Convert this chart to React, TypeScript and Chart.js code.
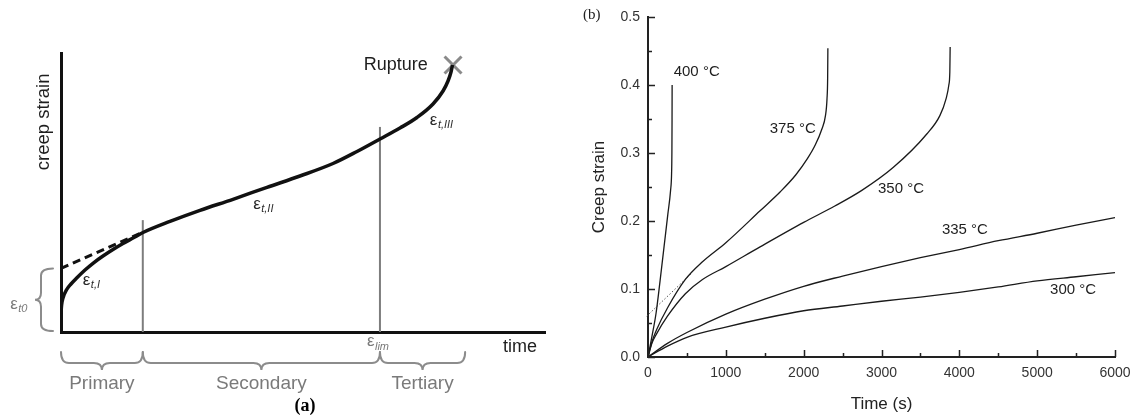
import { useEffect, useRef } from 'react';
import { Chart, registerables } from 'chart.js';

Chart.register(...registerables);

const SANS = '"Liberation Sans", Arial, Helvetica, sans-serif';
const SERIF = '"Liberation Serif", "Times New Roman", serif';

// ---------- Panel (a): idealised creep curve, arbitrary units ----------
const curveTime = [0, 0.124, 0.413, 1.178, 2.066, 3.244, 4.959, 6.674, 8.678, 10.744, 12.81, 14.876, 16.94, 22.52, 28.72, 35.54, 42.56, 49.38, 56.2, 61.16, 65.91, 70.04, 73.55, 76.86, 78.93, 79.96, 80.58, 80.89];
const curveStrain = [6.81, 9.68, 12.19, 15.23, 17.2, 19.35, 22.22, 24.73, 27.24, 29.57, 31.72, 33.69, 35.66, 39.64, 43.62, 47.56, 51.86, 55.91, 60.39, 64.7, 69.18, 73.12, 76.88, 81.72, 86.38, 89.96, 93.19, 95.7];
const tangentTime = [0, 16.9];
const tangentStrain = [22.8, 35.8];
const stageBounds = [0, 16.9, 65.9, 83.5];
const stageNames = ['Primary', 'Secondary', 'Tertiary'];
const boundaryTime = [16.9, 65.9];
const boundaryTop = [40.1, 73.5];
const ruptureTime = 81.0;
const ruptureStrain = 95.7;
const initialStrain = 22.8;

// ---------- Panel (b): measured creep strain vs time ----------
const t400 = [0, 50, 103, 155, 206, 255, 290, 303, 307, 309, 310];
const e400 = [0, 0.03, 0.064, 0.112, 0.162, 0.21, 0.245, 0.27, 0.3, 0.35, 0.4];
const t375 = [0, 50, 110, 250, 480, 700, 1000, 1440, 1700, 1900, 2050, 2150, 2233, 2280, 2300, 2308, 2311];
const e375 = [0, 0.022, 0.04, 0.072, 0.114, 0.14, 0.168, 0.215, 0.243, 0.268, 0.292, 0.312, 0.335, 0.355, 0.38, 0.41, 0.454];
const t350 = [0, 50, 110, 250, 480, 700, 1000, 1440, 2000, 2400, 2747, 3153, 3582, 3750, 3830, 3865, 3878, 3882];
const e350 = [0, 0.02, 0.034, 0.06, 0.093, 0.114, 0.133, 0.162, 0.198, 0.222, 0.245, 0.279, 0.328, 0.355, 0.38, 0.4, 0.42, 0.456];
const t335 = [0, 250, 500, 1000, 1500, 2000, 2500, 3000, 3500, 4000, 4500, 5000, 5500, 6000];
const e335 = [0, 0.02, 0.036, 0.063, 0.085, 0.104, 0.119, 0.133, 0.146, 0.158, 0.171, 0.182, 0.194, 0.205];
const t300 = [0, 250, 500, 1000, 1500, 2000, 2500, 3000, 3500, 4000, 4500, 5000, 5500, 6000];
const e300 = [0, 0.016, 0.029, 0.044, 0.057, 0.068, 0.075, 0.082, 0.088, 0.095, 0.103, 0.112, 0.118, 0.124];
const tTangent = [-17, 560];
const eTangent = [0.06, 0.123];
const curveNames = ['400 °C', '375 °C', '350 °C', '335 °C', '300 °C'];

const pts = (xs: number[], ys: number[]) => xs.map((x, i) => ({ x, y: ys[i] }));

function hBrace(ctx: CanvasRenderingContext2D, x1: number, x2: number, yEnd: number, yLine: number, yTip: number) {
  const r = Math.min(8, (x2 - x1) / 4);
  const m = (x1 + x2) / 2;
  ctx.beginPath();
  ctx.moveTo(x1, yEnd);
  ctx.quadraticCurveTo(x1, yLine, x1 + r, yLine);
  ctx.lineTo(m - r, yLine);
  ctx.quadraticCurveTo(m, yLine, m, yTip);
  ctx.quadraticCurveTo(m, yLine, m + r, yLine);
  ctx.lineTo(x2 - r, yLine);
  ctx.quadraticCurveTo(x2, yLine, x2, yEnd);
  ctx.stroke();
}

function vBrace(ctx: CanvasRenderingContext2D, yTop: number, yBot: number, xEnd: number, xLine: number, xTip: number) {
  const r = 7;
  const m = (yTop + yBot) / 2;
  ctx.beginPath();
  ctx.moveTo(xEnd, yTop);
  ctx.quadraticCurveTo(xLine, yTop, xLine, yTop + r);
  ctx.lineTo(xLine, m - r);
  ctx.quadraticCurveTo(xLine, m, xTip, m);
  ctx.quadraticCurveTo(xLine, m, xLine, m + r);
  ctx.lineTo(xLine, yBot - r);
  ctx.quadraticCurveTo(xLine, yBot, xEnd, yBot);
  ctx.stroke();
}

// epsilon symbol with an italic subscript, left edge at x, vertically centred on y
function drawEps(ctx: CanvasRenderingContext2D, x: number, y: number, sub: string, color: string, size: number) {
  ctx.fillStyle = color;
  ctx.textAlign = 'left';
  ctx.textBaseline = 'middle';
  ctx.font = `${size}px ${SANS}`;
  ctx.fillText('ε', x, y);
  const w = ctx.measureText('ε').width;
  ctx.font = `italic ${Math.round(size * 0.66)}px ${SANS}`;
  ctx.fillText(sub, x + w + 0.5, y + size * 0.3);
}

const schematicDecor = {
  id: 'schematicDecor',
  afterDraw(chart: any) {
    const { ctx } = chart;
    const x = chart.scales.x;
    const y = chart.scales.y;
    const X = (v: number) => x.getPixelForValue(v);
    const Y = (v: number) => y.getPixelForValue(v);
    const axisY = Y(0);
    const axisX = X(0);
    ctx.save();

    // stage braces below the time axis
    ctx.strokeStyle = '#8c8c8c';
    ctx.lineWidth = 2;
    ctx.lineCap = 'round';
    for (let i = 0; i < stageNames.length; i++) {
      const x1 = X(stageBounds[i]);
      const x2 = X(stageBounds[i + 1]);
      hBrace(ctx, x1, x2, axisY + 20, axisY + 31, axisY + 38);
    }
    ctx.fillStyle = '#7a7a7a';
    ctx.font = `19px ${SANS}`;
    ctx.textAlign = 'center';
    ctx.textBaseline = 'middle';
    for (let i = 0; i < stageNames.length; i++) {
      const cx = (X(stageBounds[i]) + X(stageBounds[i + 1])) / 2;
      ctx.fillText(stageNames[i], cx, axisY + 52);
    }

    // brace for the instantaneous strain
    vBrace(ctx, Y(initialStrain), Y(0) - 1, axisX - 8, axisX - 20, axisX - 26);
    drawEps(ctx, X(-10.5), Y(10), 't0', '#7a7a7a', 17);

    // curve labels
    drawEps(ctx, X(4.5), Y(18.6), 't,I', '#2a2a2a', 17);
    drawEps(ctx, X(39.7), Y(45.9), 't,II', '#2a2a2a', 17);
    drawEps(ctx, X(76.2), Y(76.0), 't,III', '#2a2a2a', 17);
    drawEps(ctx, X(63.2), Y(-3.4), 'lim', '#7a7a7a', 17);

    ctx.fillStyle = '#1e1e1e';
    ctx.font = `18px ${SANS}`;
    ctx.textAlign = 'right';
    ctx.textBaseline = 'middle';
    ctx.fillText('Rupture', X(75.8), Y(ruptureStrain));

    ctx.textAlign = 'left';
    ctx.fillText('time', X(91.3), Y(-5.4));

    ctx.save();
    ctx.translate(X(-3.6), Y(75.3));
    ctx.rotate(-Math.PI / 2);
    ctx.textAlign = 'center';
    ctx.font = `18.5px ${SANS}`;
    ctx.fillText('creep strain', 0, 0);
    ctx.restore();

    ctx.fillStyle = '#000';
    ctx.font = `bold 18px ${SERIF}`;
    ctx.textAlign = 'center';
    ctx.fillText('(a)', X(50.4), Y(-26.5));
    ctx.restore();
  },
};

const curveLabels = [
  { t: 330, e: 0.42 },
  { t: 1564, e: 0.335 },
  { t: 2955, e: 0.247 },
  { t: 3776, e: 0.187 },
  { t: 5166, e: 0.0994 },
];

const measuredDecor = {
  id: 'measuredDecor',
  afterDraw(chart: any) {
    const { ctx, chartArea } = chart;
    const x = chart.scales.x;
    const y = chart.scales.y;
    ctx.save();
    // inward tick marks
    ctx.strokeStyle = '#222';
    ctx.lineWidth = 1.5;
    ctx.beginPath();
    x.ticks.forEach((t: any) => {
      const px = Math.round(x.getPixelForValue(t.value)) + 0.5;
      const major = Math.round(t.value) % 1000 === 0;
      ctx.moveTo(px, chartArea.bottom);
      ctx.lineTo(px, chartArea.bottom - (major ? 7 : 4));
    });
    y.ticks.forEach((t: any) => {
      const py = Math.round(y.getPixelForValue(t.value)) + 0.5;
      const major = Math.round(t.value * 100) % 10 === 0;
      ctx.moveTo(chartArea.left, py);
      ctx.lineTo(chartArea.left + (major ? 7 : 4), py);
    });
    ctx.stroke();

    // temperature labels
    ctx.fillStyle = '#1e1e1e';
    ctx.font = `15px ${SANS}`;
    ctx.textAlign = 'left';
    ctx.textBaseline = 'middle';
    curveLabels.forEach((l, i) => {
      ctx.fillText(curveNames[i], x.getPixelForValue(l.t), y.getPixelForValue(l.e));
    });

    ctx.font = `15px ${SERIF}`;
    ctx.fillStyle = '#222';
    ctx.fillText('(b)', 23, 15);
    ctx.restore();
  },
};

export default function App() {
  const refA = useRef<HTMLCanvasElement>(null);
  const refB = useRef<HTMLCanvasElement>(null);

  useEffect(() => {
    const schematic = new Chart(refA.current!, {
      type: 'line',
      data: {
        datasets: [
          {
            data: pts(curveTime, curveStrain),
            borderColor: '#111',
            borderWidth: 3.5,
            pointRadius: 0,
            cubicInterpolationMode: 'monotone',
          },
          {
            data: pts(tangentTime, tangentStrain),
            borderColor: '#111',
            borderWidth: 3,
            borderDash: [8, 5],
            pointRadius: 0,
          },
          {
            data: [{ x: boundaryTime[0], y: 0 }, { x: boundaryTime[0], y: boundaryTop[0] }],
            borderColor: '#7d7d7d',
            borderWidth: 2,
            pointRadius: 0,
          },
          {
            data: [{ x: boundaryTime[1], y: 0 }, { x: boundaryTime[1], y: boundaryTop[1] }],
            borderColor: '#7d7d7d',
            borderWidth: 2,
            pointRadius: 0,
          },
          {
            data: [{ x: ruptureTime, y: ruptureStrain }],
            showLine: false,
            pointStyle: 'crossRot',
            pointRadius: 12,
            pointBorderWidth: 3,
            pointBorderColor: '#8a8a8a',
            clip: false,
          },
        ] as any,
      },
      options: {
        responsive: false,
        animation: false,
        events: [],
        layout: { padding: { left: 61, top: 53, right: 15, bottom: 87 } },
        plugins: { legend: { display: false }, tooltip: { enabled: false } },
        scales: {
          x: {
            type: 'linear',
            min: 0,
            max: 100,
            ticks: { display: false },
            grid: { display: false, drawTicks: false },
            border: { display: true, width: 3, color: '#111' },
            afterFit: (s: any) => { s.height = 0; },
          },
          y: {
            min: 0,
            max: 100,
            ticks: { display: false },
            grid: { display: false, drawTicks: false },
            border: { display: true, width: 3, color: '#111' },
            afterFit: (s: any) => { s.width = 0; },
          },
        },
      } as any,
      plugins: [schematicDecor],
    });

    const line = (xs: number[], ys: number[]) => ({
      data: pts(xs, ys),
      borderColor: '#1a1a1a',
      borderWidth: 1.3,
      pointRadius: 0,
      cubicInterpolationMode: 'monotone',
    });

    const measured = new Chart(refB.current!, {
      type: 'line',
      data: {
        datasets: [
          line(t400, e400),
          line(t375, e375),
          line(t350, e350),
          line(t335, e335),
          line(t300, e300),
          {
            data: pts(tTangent, eTangent),
            borderColor: '#555',
            borderWidth: 1,
            borderDash: [1.5, 2],
            pointRadius: 0,
            clip: 6,
          },
        ] as any,
      },
      options: {
        responsive: false,
        animation: false,
        events: [],
        layout: { padding: { left: 0, top: 17, right: 17, bottom: 0 } },
        plugins: { legend: { display: false }, tooltip: { enabled: false } },
        scales: {
          x: {
            type: 'linear',
            min: 0,
            max: 6000,
            grid: { display: false, drawTicks: false },
            border: { display: true, width: 2, color: '#222' },
            ticks: {
              stepSize: 500,
              autoSkip: false,
              maxRotation: 0,
              padding: 8,
              color: '#333',
              font: { family: SANS, size: 14 },
              callback: (v: any) => (Math.round(v) % 1000 === 0 ? String(v) : ''),
            },
            title: {
              display: true,
              text: 'Time (s)',
              color: '#222',
              font: { family: SANS, size: 17 },
              padding: { top: 0, bottom: 4 },
            },
            afterFit: (s: any) => {
              s.height = 62;
              s.paddingLeft = 0;
              s.paddingRight = 0;
            },
          },
          y: {
            min: 0,
            max: 0.5,
            grid: { display: false, drawTicks: false },
            border: { display: true, width: 2, color: '#222' },
            ticks: {
              stepSize: 0.05,
              autoSkip: false,
              padding: 8,
              color: '#333',
              font: { family: SANS, size: 14 },
              callback: (v: any) => (Math.round(v * 100) % 10 === 0 ? Number(v).toFixed(1) : ''),
            },
            title: {
              display: true,
              text: 'Creep strain',
              color: '#222',
              font: { family: SANS, size: 17 },
              padding: { top: 29, bottom: 0 },
            },
            afterFit: (s: any) => {
              s.width = 88;
              s.paddingTop = 0;
              s.paddingBottom = 0;
            },
          },
        },
      } as any,
      plugins: [measuredDecor],
    });

    return () => {
      schematic.destroy();
      measured.destroy();
    };
  }, []);

  return (
    <div style={{ position: 'absolute', left: 0, top: 0, width: 1132, height: 419, background: '#fff' }}>
      <canvas ref={refA} width={560} height={419} style={{ position: 'absolute', left: 0, top: 0 }} />
      <canvas ref={refB} width={572} height={419} style={{ position: 'absolute', left: 560, top: 0 }} />
    </div>
  );
}
